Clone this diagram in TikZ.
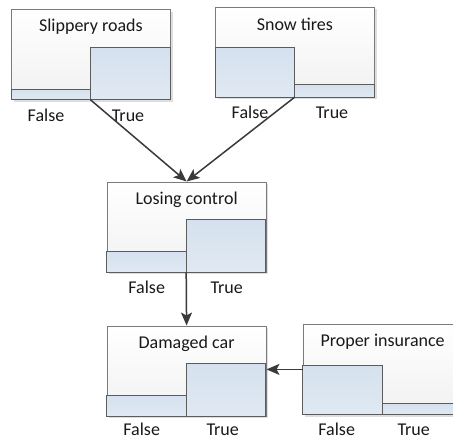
\documentclass[tikz,border=0pt]{standalone}
\usepackage{fontspec}
\setmainfont{Carlito}
\usetikzlibrary{arrows.meta,calc}

\definecolor{edgegray}{HTML}{7A7A7A}
\definecolor{bardark}{HTML}{5C5C5C}
\definecolor{bartop}{HTML}{D5E1EE}
\definecolor{barbot}{HTML}{E0E9F3}
\definecolor{boxbot}{HTML}{F1F1F1}
\definecolor{linkc}{HTML}{3A3A3A}

\tikzset{
  boxnode/.style={draw=edgegray, line width=0.8pt, top color=white, bottom color=boxbot,
    minimum width=159pt, minimum height=90pt, inner sep=0pt, anchor=north west},
  shadowbox/.style={fill=black!13},
  barbox/.style={draw=bardark, line width=0.8pt, top color=bartop, bottom color=barbot},
  titletext/.style={font=\fontsize{18}{21}\selectfont, text=black!90, inner sep=0pt},
  statetext/.style={font=\fontsize{18}{21}\selectfont, text=black!90, inner sep=0pt, anchor=base},
  link/.style={draw=linkc, line width=1.5pt, -{Stealth[length=13pt,width=11pt,inset=3pt]}},
}

% #1 name, #2 x, #3 y (top), #4 title, #5 False bar height, #6 True bar height,
% #7 x offset of "False", #8 x offset of "True", #9 baseline offset of the state labels
\newcommand{\netnode}[9]{%
  \fill[shadowbox] (#2+2.5,#3+2.5) rectangle ++(159,90);
  \node[boxnode] (#1) at (#2,#3) {};
  \shade[barbox] (#1.south west) rectangle ++(79.5,-#5);
  \shade[barbox] ($(#1.south west)+(79.5,0)$) rectangle ++(79.5,-#6);
  \coordinate (#1-split) at ($(#1.south west)+(79.5,0)$);
  \node[titletext] (#1-title) at ($(#1.north)+(0,18)$) {#4};
  \node[statetext] (#1-false) at ($(#1.south west)+(#7,#9)$) {False};
  \node[statetext] (#1-true) at ($(#1.south west)+(#8,#9)$) {True};
}

\begin{document}
\begin{tikzpicture}[x=1pt, y=-1pt]
  \clip (0,0) rectangle (453,440);
  \fill[white] (0,0) rectangle (453,440);

  \netnode{slip}{11}{9}{Slippery roads}{10.5}{52}{35}{117}{21.5}
  \netnode{snow}{215}{6.5}{Snow tires}{49.5}{12.5}{35}{117}{21.5}
  \netnode{lose}{106.7}{181.5}{Losing control}{21}{52.5}{40}{120}{21.5}
  \netnode{dmg}{106.7}{325.5}{Damaged car}{21}{53}{35}{116}{19.5}
  \netnode{ins}{302.7}{324}{Proper insurance}{49.5}{11.5}{34}{111}{21}

  \draw[link] (slip-split) -- (lose.north);
  \draw[link] (snow-split) -- (lose.north);
  \draw[link] (lose-split) -- (dmg.north);
  \draw[link] (ins.west) -- (ins.west -| dmg.east);
\end{tikzpicture}
\end{document}
